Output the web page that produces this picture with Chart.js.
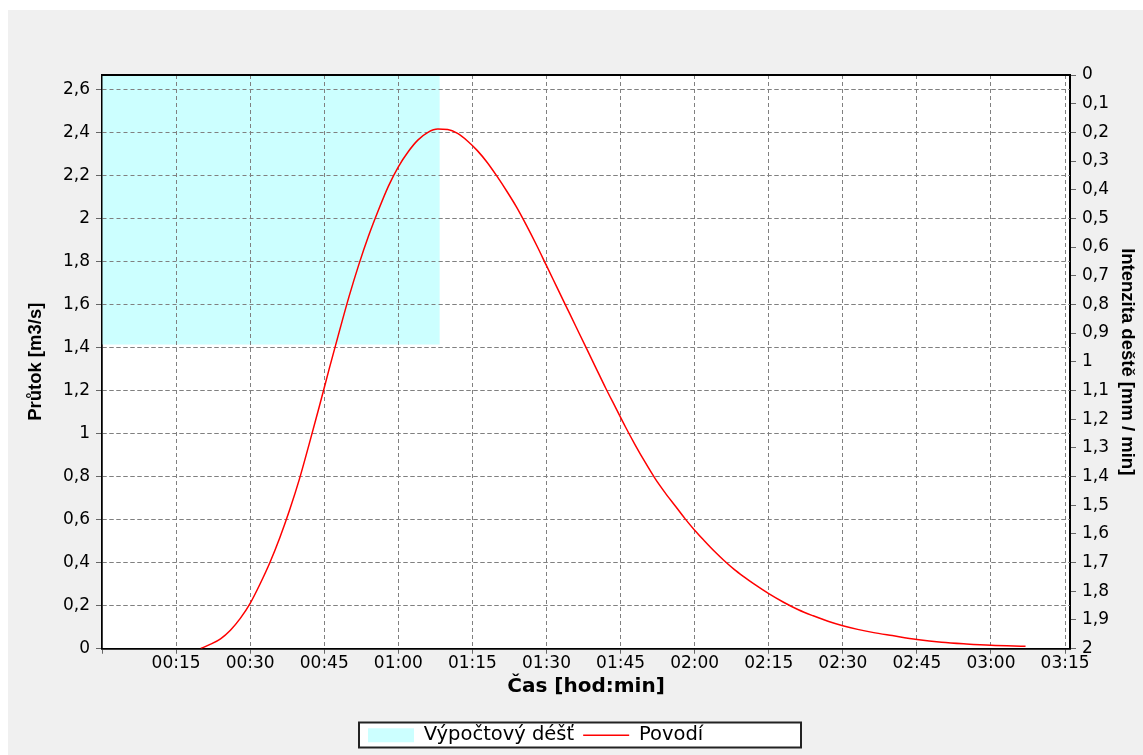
<!DOCTYPE html>
<html>
<head>
<meta charset="utf-8">
<script src="https://cdn.jsdelivr.net/npm/chart.js@4/dist/chart.umd.min.js"></script>
<style>
  html, body { margin: 0; padding: 0; background: #fff; }
  #wrap { position: absolute; left: 8px; top: 10px; width: 1135px; height: 745px; background: #f0f0f0; }
</style>
</head>
<body>
<div id="wrap"><canvas id="hydro" width="1135" height="745"></canvas></div>
<script>
// time in minutes, flow in m3/s
const flowTimes = [20, 22, 24, 26, 28, 30, 32, 34, 36, 38, 40, 42, 44, 46, 48, 50, 52, 54, 56, 58, 60,
  62, 64, 66, 68, 70, 72, 74, 76, 78, 80, 82, 84, 86, 88, 90, 92, 94, 96, 98, 100,
  102, 104, 106, 108, 110, 112, 114, 116, 118, 120, 122, 124, 126, 128, 130, 132, 135, 138, 141, 144,
  147, 150, 153, 156, 160, 165, 170, 175, 180, 187];
const flowValues = [0, 0.02, 0.045, 0.085, 0.14, 0.21, 0.30, 0.40, 0.515, 0.645, 0.79, 0.955, 1.125, 1.30, 1.47, 1.635, 1.785, 1.92, 2.04, 2.15, 2.24,
  2.31, 2.365, 2.40, 2.415, 2.413, 2.395, 2.36, 2.315, 2.26, 2.195, 2.125, 2.05, 1.965, 1.875, 1.78, 1.685, 1.59, 1.495, 1.40, 1.305,
  1.21, 1.12, 1.03, 0.945, 0.865, 0.79, 0.725, 0.665, 0.605, 0.55, 0.50, 0.452, 0.408, 0.368, 0.333, 0.30, 0.255, 0.215, 0.18, 0.152,
  0.127, 0.106, 0.089, 0.075, 0.06, 0.042, 0.029, 0.021, 0.015, 0.011];

// block rain, mm/min
const rainTimes = [0, 68.4];
const rainValues = [0.94, 0.94];

const xTicks = [0, 15, 30, 45, 60, 75, 90, 105, 120, 135, 150, 165, 180, 195];
const leftTicks = [0, 0.2, 0.4, 0.6, 0.8, 1, 1.2, 1.4, 1.6, 1.8, 2, 2.2, 2.4, 2.6];
const rightTicks = [0, 0.1, 0.2, 0.3, 0.4, 0.5, 0.6, 0.7, 0.8, 0.9, 1, 1.1, 1.2, 1.3, 1.4, 1.5, 1.6, 1.7, 1.8, 1.9, 2];

const GRID = 'rgb(128,128,128)';
const pad2 = n => String(n).padStart(2, '0');
const hhmm = v => v === 0 ? '' : pad2(Math.floor(v / 60)) + ':' + pad2(v % 60);
const comma = v => String(Math.round(v * 10) / 10).replace('.', ',');
const hideZero = c => c.tick && c.tick.value === 0 ? 'rgba(0,0,0,0)' : GRID;

Chart.defaults.font.family = '"DejaVu Sans", sans-serif';
Chart.defaults.font.size = 17;
Chart.defaults.color = '#000';

const frame = {
  id: 'frame',
  afterLayout(chart) {
    // legend box sits a bit left of centre in the original
    const lg = chart.legend;
    lg.left = 351;
    lg.width = 442;
    lg.right = lg.left + lg.width;
  },
  beforeDraw(chart) {
    const { ctx, chartArea: a, legend: lg } = chart;
    ctx.save();
    ctx.fillStyle = '#fff';
    ctx.fillRect(a.left, a.top, a.right - a.left, a.bottom - a.top);
    ctx.fillRect(lg.left, lg.top + 6, lg.width, 25);
    ctx.strokeStyle = '#222';
    ctx.lineWidth = 2;
    ctx.strokeRect(lg.left, lg.top + 6, lg.width, 25);
    ctx.restore();
  },
  afterDatasetDraw(chart, args) {
    // grid has to stay visible through the rain block
    if (args.index !== 0) return;
    ['x', 'y'].forEach(id => {
      const s = chart.scales[id];
      s.drawGrid(chart.chartArea);
      if (s.drawBorder) s.drawBorder();
    });
  },
  afterDraw(chart) {
    const { ctx, chartArea: a } = chart;
    ctx.save();
    ctx.strokeStyle = '#000';
    ctx.lineWidth = 2;
    ctx.beginPath();
    ctx.moveTo(a.left, a.top);
    ctx.lineTo(a.right, a.top);
    ctx.stroke();
    ctx.restore();
  }
};

new Chart(document.getElementById('hydro'), {
  type: 'line',
  data: {
    datasets: [{
      label: 'Výpočtový déšť',
      data: rainTimes.map((t, i) => ({ x: t, y: rainValues[i] })),
      yAxisID: 'y2',
      backgroundColor: '#ccffff',
      borderWidth: 0,
      pointRadius: 0,
      pointStyle: 'rect',
      fill: { value: 0 },
      order: 1
    }, {
      label: 'Povodí',
      data: flowTimes.map((t, i) => ({ x: t, y: flowValues[i] })),
      yAxisID: 'y',
      borderColor: '#ff0000',
      backgroundColor: '#ff0000',
      borderWidth: 1.5,
      pointRadius: 0,
      pointStyle: 'line',
      cubicInterpolationMode: 'monotone',
      fill: false,
      order: 0
    }]
  },
  options: {
    responsive: false,
    animation: false,
    layout: { padding: { top: 65, left: 0, right: 0, bottom: 0 } },
    plugins: {
      legend: {
        position: 'bottom',
        align: 'start',
        labels: {
          usePointStyle: true,
          pointStyleWidth: 46,
          boxHeight: 14,
          padding: 9,
          color: '#000',
          font: { size: 19.5 },
          sort: (a, b) => a.datasetIndex - b.datasetIndex
        }
      },
      tooltip: { enabled: false }
    },
    scales: {
      x: {
        type: 'linear',
        min: 0,
        max: 196,
        afterBuildTicks: s => { s.ticks = xTicks.map(v => ({ value: v })); },
        afterFit: s => { s.height = 68; },
        ticks: { callback: hhmm, padding: 0, maxRotation: 0, autoSkip: false },
        grid: { color: hideZero, tickColor: '#666', tickLength: 5, borderDash: [5, 3], tickBorderDash: [] },
        border: { color: '#000', width: 1.5, dash: [4, 3] },
        title: { display: true, text: 'Čas [hod:min]', font: { size: 20, weight: 'bold' }, padding: { top: 0, bottom: 18 } }
      },
      y: {
        position: 'left',
        min: 0,
        max: 8 / 3,
        afterBuildTicks: s => { s.ticks = leftTicks.map(v => ({ value: v })); },
        afterFit: s => { s.width = 94; },
        ticks: { callback: comma, padding: 6, autoSkip: false },
        grid: { color: hideZero, tickColor: '#666', tickLength: 6, borderDash: [5, 3], tickBorderDash: [] },
        border: { color: '#000', width: 1.5, dash: [4, 3] },
        title: { display: true, text: 'Průtok [m3/s]', font: { family: '"Liberation Sans", Arial, sans-serif', size: 18.5, weight: 'bold' }, padding: { top: 17, bottom: 0 } }
      },
      y2: {
        position: 'right',
        reverse: true,
        min: 0,
        max: 2,
        afterBuildTicks: s => { s.ticks = rightTicks.map(v => ({ value: v })); },
        afterFit: s => { s.width = 73; },
        ticks: { callback: comma, padding: 6, autoSkip: false },
        grid: { drawOnChartArea: false, tickColor: '#666', tickLength: 6 },
        border: { color: '#000', width: 2 },
        title: { display: true, text: 'Intenzita deště [mm / min]', font: { family: '"Liberation Sans", Arial, sans-serif', size: 18.5, weight: 'bold' }, padding: { top: 5, bottom: 0 } }
      }
    }
  },
  plugins: [frame]
});
</script>
</body>
</html>
